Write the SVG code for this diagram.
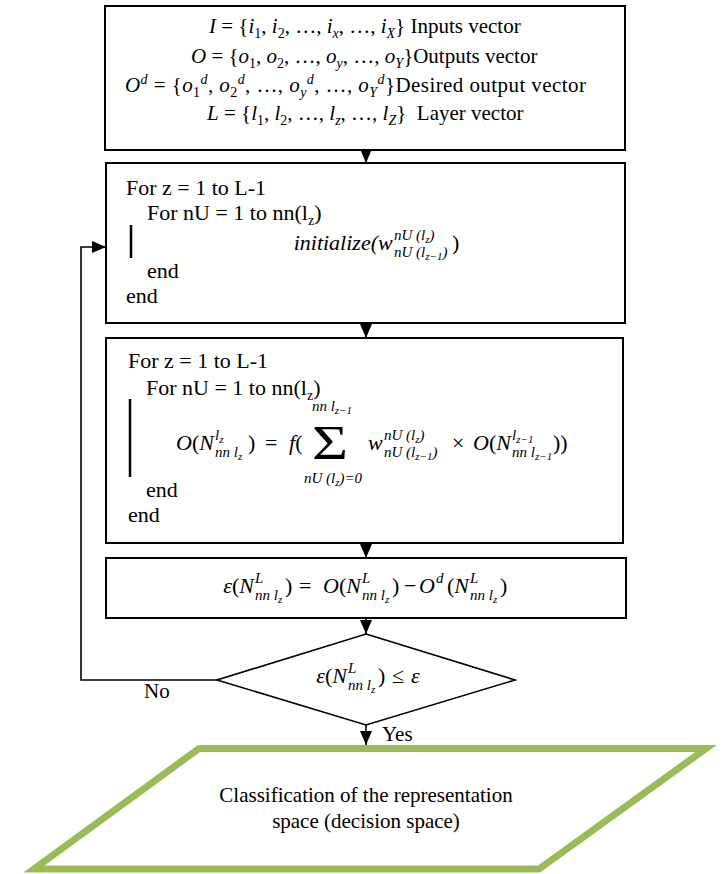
<svg xmlns="http://www.w3.org/2000/svg" width="723" height="874" viewBox="0 0 723 874">
<style>
.box{fill:#fff;stroke:#000;stroke-width:2}
.dia{fill:#fff;stroke:#000;stroke-width:1.6}
.para{fill:#fff;stroke:#9BBB59;stroke-width:7}
.bar{stroke:#000;stroke-width:2.5}
.con{fill:none;stroke:#000;stroke-width:1.6}
text{font-family:"Liberation Serif","Times New Roman",serif;fill:#000}
.t{font-size:21px}
.c{font-size:22px}
.i{font-style:italic}
.s{font-size:15px}
.e{text-anchor:end}
.sb{font-size:14px;baseline-shift:-5px}
.sp{font-size:14px;baseline-shift:8px}
.bs{font-size:11px;baseline-shift:-3px}
</style>
<defs>
<marker id="ah" viewBox="0 0 14 12" refX="14" refY="6" markerWidth="14" markerHeight="12" orient="auto" markerUnits="userSpaceOnUse"><path d="M0,0 L14,6 L0,12 z" fill="#000"/></marker>
</defs>

<g id="connectors">
<line class="con" x1="366" y1="150" x2="366" y2="163" marker-end="url(#ah)"/>
<line class="con" x1="366" y1="323" x2="366" y2="338" marker-end="url(#ah)"/>
<line class="con" x1="366" y1="543" x2="366" y2="558" marker-end="url(#ah)"/>
<line class="con" x1="366" y1="618" x2="366" y2="634" marker-end="url(#ah)"/>
<line class="con" x1="366" y1="725" x2="366" y2="745" marker-end="url(#ah)"/>
<polyline class="con" points="217,680 81,680 81,247 106,247" marker-end="url(#ah)"/>
<text class="t" x="144" y="698">No</text>
<text class="t" x="382" y="741">Yes</text>
</g>

<g id="node-definitions">
<rect class="box" x="105" y="6" width="520" height="144"/>
<text class="t" x="209" y="33"><tspan class="i">I</tspan> = {<tspan class="i">i</tspan><tspan class="sb">1</tspan>, <tspan class="i">i</tspan><tspan class="sb">2</tspan>, …, <tspan class="i">i</tspan><tspan class="sb i">x</tspan>, …, <tspan class="i">i</tspan><tspan class="sb i">X</tspan>} Inputs vector</text>
<text class="t" x="191" y="63"><tspan class="i">O</tspan> = {<tspan class="i">o</tspan><tspan class="sb">1</tspan>, <tspan class="i">o</tspan><tspan class="sb">2</tspan>, …, <tspan class="i">o</tspan><tspan class="sb i">y</tspan>, …, <tspan class="i">o</tspan><tspan class="sb i">Y</tspan>}Outputs vector</text>
<text class="t" x="125" y="92" textLength="461" lengthAdjust="spacing"><tspan class="i">O</tspan><tspan class="sp i">d</tspan> = {<tspan class="i">o</tspan><tspan class="sb">1</tspan><tspan class="sp i">d</tspan>, <tspan class="i">o</tspan><tspan class="sb">2</tspan><tspan class="sp i">d</tspan>, …, <tspan class="i">o</tspan><tspan class="sb i">y</tspan><tspan class="sp i">d</tspan>, …, <tspan class="i">o</tspan><tspan class="sb i">Y</tspan><tspan class="sp i">d</tspan>}Desired output vector</text>
<text class="t" x="207" y="120"><tspan class="i">L</tspan> = {<tspan class="i">l</tspan><tspan class="sb">1</tspan>, <tspan class="i">l</tspan><tspan class="sb">2</tspan>, …, <tspan class="i">l</tspan><tspan class="sb i">z</tspan>, …, <tspan class="i">l</tspan><tspan class="sb i">Z</tspan>} &#160;Layer vector</text>
</g>

<g id="node-initialize">
<rect class="box" x="106" y="163" width="519" height="160"/>
<text class="c" x="126" y="195">For z = 1 to L-1</text>
<text class="c" x="147" y="220">For nU = 1 to nn(l<tspan class="sb">z</tspan>)</text>
<line class="bar" x1="131" y1="225" x2="131" y2="258"/>
<text class="c i e" x="378" y="250">initialize(</text>
<text class="c i" x="378" y="250">w</text>
<text class="s i" x="394" y="240">nU (l<tspan class="bs">z</tspan>)</text>
<text class="s i" x="394" y="257">nU (l<tspan class="bs">z−1</tspan>)</text>
<text class="c" x="452" y="250">)</text>
<text class="c" x="147" y="278">end</text>
<text class="c" x="126" y="303">end</text>
</g>

<g id="node-propagate">
<rect class="box" x="106" y="338" width="517" height="205"/>
<text class="c" x="128" y="368">For z = 1 to L-1</text>
<text class="c" x="146" y="395">For nU = 1 to nn(l<tspan class="sb">z</tspan>)</text>
<line class="bar" x1="130" y1="399" x2="130" y2="477"/>
<text class="c e" x="214" y="450"><tspan class="i">O</tspan>(<tspan class="i">N</tspan></text>
<text class="s i" x="215" y="440">l<tspan class="bs">z</tspan></text>
<text class="s i" x="215" y="457">nn l<tspan class="bs">z</tspan></text>
<text class="c" x="248" y="450">)</text>
<text class="c" x="265" y="450">=</text>
<text class="c" x="289" y="450"><tspan class="i">f</tspan>(</text>
<text x="330" y="459" font-size="48" text-anchor="middle" textLength="36" lengthAdjust="spacingAndGlyphs">Σ</text>
<text class="s i" x="332" y="411" text-anchor="middle">nn l<tspan class="bs">z−1</tspan></text>
<text class="s i" x="333" y="483" text-anchor="middle">nU (l<tspan class="bs">z</tspan>)=0</text>
<text class="c i" x="368" y="450">w</text>
<text class="s i" x="384" y="440">nU (l<tspan class="bs">z</tspan>)</text>
<text class="s i" x="384" y="457">nU (l<tspan class="bs">z−1</tspan>)</text>
<text class="c" x="452" y="450">×</text>
<text class="c e" x="511" y="450"><tspan class="i">O</tspan>(<tspan class="i">N</tspan></text>
<text class="s i" x="512" y="440">l<tspan class="bs">z−1</tspan></text>
<text class="s i" x="512" y="457">nn l<tspan class="bs">z−1</tspan></text>
<text class="c" x="553" y="450">))</text>
<text class="c" x="146" y="497">end</text>
<text class="c" x="128" y="522">end</text>
</g>

<g id="node-error">
<rect class="box" x="106" y="558" width="520" height="60"/>
<text class="c e" x="254" y="593"><tspan class="i">ε</tspan>(<tspan class="i">N</tspan></text>
<text class="s i" x="255" y="583">L</text>
<text class="s i" x="255" y="600">nn l<tspan class="bs">z</tspan></text>
<text class="c" x="285" y="593">)</text>
<text class="c" x="299" y="593">=</text>
<text class="c e" x="361" y="593"><tspan class="i">O</tspan>(<tspan class="i">N</tspan></text>
<text class="s i" x="362" y="583">L</text>
<text class="s i" x="362" y="600">nn l<tspan class="bs">z</tspan></text>
<text class="c" x="392" y="593">)</text>
<text class="c" x="404" y="593">−</text>
<text class="c i" x="419" y="593">O</text>
<text class="s i" x="436" y="583">d</text>
<text class="c e" x="469" y="593">(<tspan class="i">N</tspan></text>
<text class="s i" x="470" y="583">L</text>
<text class="s i" x="470" y="600">nn l<tspan class="bs">z</tspan></text>
<text class="c" x="500" y="593">)</text>
</g>

<g id="node-decision">
<polygon class="dia" points="366,634 515,680 366,725 217,680"/>
<text class="c e" x="347" y="683"><tspan class="i">ε</tspan>(<tspan class="i">N</tspan></text>
<text class="s i" x="348" y="673">L</text>
<text class="s i" x="348" y="690">nn l<tspan class="bs">z</tspan></text>
<text class="c" x="378" y="683">)</text>
<text class="c" x="392" y="683">≤</text>
<text class="c i" x="411" y="683">ε</text>
</g>

<g id="node-output">
<polygon class="para" points="199,748.5 706,748.5 539,869 34,869"/>
<text class="t" x="366" y="802" text-anchor="middle">Classification of the representation</text>
<text class="t" x="366" y="828" text-anchor="middle">space (decision space)</text>
</g>
</svg>
